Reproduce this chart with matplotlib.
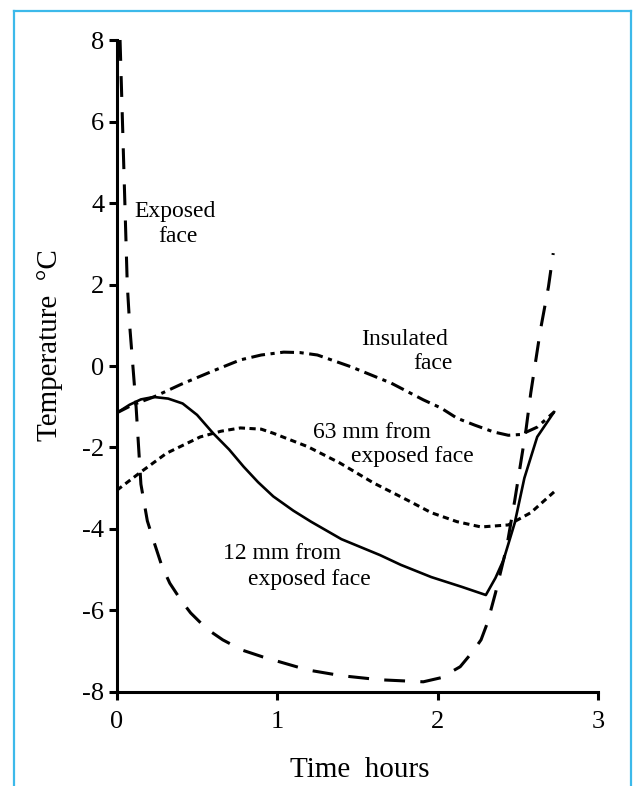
import matplotlib
matplotlib.use("Agg")
import matplotlib.pyplot as plt
from matplotlib.lines import Line2D

plt.rcParams['font.family'] = ['Liberation Serif', 'DejaVu Serif']
plt.rcParams['lines.scale_dashes'] = False
plt.rcParams['axes.unicode_minus'] = False

# data (time in hours, temperature in deg C)
exposed_x = [0.02, 0.035, 0.05, 0.065, 0.08, 0.1, 0.12, 0.15, 0.19, 0.23, 0.28, 0.33,
             0.4, 0.46, 0.56, 0.66, 0.78, 0.91, 1.05, 1.19, 1.4, 1.64, 1.91, 2.02,
             2.14, 2.22, 2.27, 2.31, 2.36, 2.43, 2.48, 2.55, 2.58, 2.64, 2.69, 2.72]
exposed_y = [8.0, 6.0, 4.0, 2.0, 1.0, 0.0, -1.0, -2.9, -3.8, -4.3, -4.9, -5.33,
             -5.75, -6.06, -6.45, -6.72, -6.97, -7.14, -7.3, -7.46, -7.6, -7.7, -7.75, -7.65,
             -7.38, -7.0, -6.72, -6.3, -5.57, -4.44, -3.3, -1.57, -0.66, 0.88, 1.94, 2.77]

mm12_x = [0, 0.08, 0.15, 0.23, 0.32, 0.41, 0.5, 0.6, 0.7, 0.79, 0.88, 0.975, 1.1,
          1.21, 1.4, 1.64, 1.77, 1.96, 2.15, 2.3, 2.36, 2.41, 2.48, 2.54, 2.62, 2.725]
mm12_y = [-1.15, -0.95, -0.82, -0.76, -0.8, -0.92, -1.2, -1.65, -2.05, -2.47, -2.85, -3.2, -3.55,
          -3.82, -4.25, -4.64, -4.88, -5.18, -5.42, -5.62, -5.2, -4.76, -3.85, -2.75, -1.74, -1.13]

insul_x = [0, 0.1, 0.23, 0.4, 0.6, 0.77, 0.9, 1.04, 1.14, 1.25, 1.46, 1.71, 1.91,
           2.02, 2.12, 2.23, 2.35, 2.44, 2.52, 2.62, 2.725]
insul_y = [-1.15, -0.95, -0.76, -0.45, -0.12, 0.15, 0.27, 0.34, 0.33, 0.27, -0.02, -0.42, -0.83,
           -1.03, -1.28, -1.45, -1.62, -1.7, -1.68, -1.5, -1.13]

mm63_x = [0, 0.15, 0.31, 0.52, 0.65, 0.77, 0.9, 0.975, 1.19, 1.39, 1.6, 1.81, 1.96,
          2.12, 2.27, 2.44, 2.58, 2.725]
mm63_y = [-3.05, -2.6, -2.14, -1.74, -1.6, -1.52, -1.55, -1.65, -1.98, -2.38, -2.87, -3.29, -3.6,
          -3.82, -3.95, -3.9, -3.6, -3.09]

x_ticks = [0, 1, 2, 3]
y_ticks = [-8, -6, -4, -2, 0, 2, 4, 6, 8]

fig = plt.figure(figsize=(6.35, 7.86), dpi=100)
ax = fig.add_axes([0.184, 0.1196, 0.758, 0.8295])

ax.plot(exposed_x, exposed_y, color='black', lw=2.2, dashes=(15, 11), clip_on=False)
ax.plot(mm12_x, mm12_y, color='black', lw=1.9)
ax.plot(insul_x, insul_y, color='black', lw=2.2, dashes=(10, 4, 3, 4))
ax.plot(mm63_x, mm63_y, color='black', lw=2.2, dashes=(4.5, 3.2))

ax.set_xlim(0, 3)
ax.set_ylim(-8, 8)
ax.set_xticks(x_ticks)
ax.set_yticks(y_ticks)
ax.spines['top'].set_visible(False)
ax.spines['right'].set_visible(False)
for s in ['left', 'bottom']:
    ax.spines[s].set_linewidth(2.2)
ax.tick_params(direction='out', length=6, width=2.2, labelsize=19, pad=3)
ax.tick_params(axis='x', pad=8)

ax.set_xlabel('Time  hours', fontsize=21)
ax.set_ylabel('Temperature  °C', fontsize=21)
ax.xaxis.set_label_coords(0.505, -0.1)
ax.yaxis.set_label_coords(-0.112, 0.532)

fs = 17
ax.text(0.11, 3.8, 'Exposed', fontsize=fs, va='center')
ax.text(0.26, 3.19, 'face', fontsize=fs, va='center')
ax.text(1.52, 0.64, 'Insulated', fontsize=fs, va='center')
ax.text(1.85, 0.07, 'face', fontsize=fs, va='center')
ax.text(1.22, -1.64, '63 mm from', fontsize=fs, va='center')
ax.text(1.46, -2.23, 'exposed face', fontsize=fs, va='center')
ax.text(0.66, -4.59, '12 mm from', fontsize=fs, va='center')
ax.text(0.82, -5.25, 'exposed face', fontsize=fs, va='center')

# light blue frame around the figure (no bottom edge)
blue = '#3cb9ea'
fig.add_artist(Line2D([0.022, 0.022], [0.0, 0.986], color=blue, lw=1.6))
fig.add_artist(Line2D([0.022, 0.994], [0.986, 0.986], color=blue, lw=1.6))
fig.add_artist(Line2D([0.994, 0.994], [0.0, 0.986], color=blue, lw=1.6))

fig.savefig('out.png', dpi=100)
